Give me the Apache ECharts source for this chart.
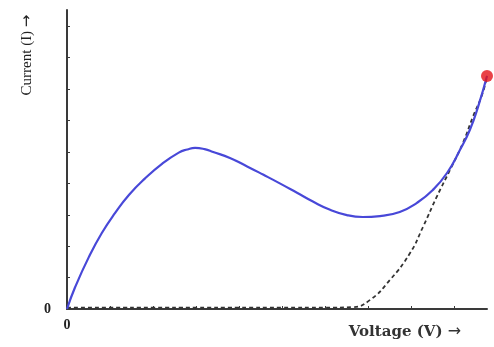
<!DOCTYPE html>
<html><head><meta charset="utf-8">
<script src="https://cdn.jsdelivr.net/npm/echarts@6/dist/echarts.min.js"></script>
<style>html,body{margin:0;padding:0;background:#fff}#c{width:494px;height:347px}</style>
</head><body><div id="c"></div>
<script>
// Tunnel-diode I–V curve (arbitrary units)
const voltage = [0, 0.19, 0.51, 0.81, 1.12, 1.44, 1.81, 2.21, 2.60, 2.80, 2.98, 3.20, 3.40, 3.79, 4.19, 4.56, 4.95, 5.35, 5.72, 6.12, 6.51, 6.88, 7.28, 7.74, 8.14, 8.51, 8.84, 9.14, 9.37, 9.56, 9.77];
const current = [0, 0.70, 1.66, 2.42, 3.06, 3.63, 4.15, 4.62, 4.98, 5.08, 5.13, 5.09, 5.00, 4.81, 4.54, 4.28, 4.00, 3.70, 3.42, 3.16, 2.99, 2.93, 2.96, 3.09, 3.38, 3.79, 4.33, 5.06, 5.70, 6.43, 7.42];
const diodeV = [0, 1.0, 2.0, 3.0, 4.0, 5.0, 6.0, 6.65, 7.05, 7.51, 7.98, 8.28, 8.60, 8.91, 9.21, 9.44, 9.67, 9.77];
const diodeI = [0.04, 0.04, 0.04, 0.04, 0.04, 0.04, 0.04, 0.06, 0.29, 0.92, 1.78, 2.61, 3.57, 4.43, 5.29, 6.11, 6.88, 7.42];
const endPoint = [9.77, 7.42];
const xTickLabels = ['0'];
const yTickLabels = ['0'];

const chart = echarts.init(document.getElementById('c'));
const serif = '"Liberation Serif", "DejaVu Serif", serif';
chart.setOption({
  animation: false,
  grid: {left: 67, right: 7, top: 10, bottom: 38},
  xAxis: {
    type: 'value', min: 0, max: 9.77, interval: 1,
    axisLine: {lineStyle: {color: '#3a3a3a', width: 2}},
    axisTick: {inside: true, length: 3, lineStyle: {color: '#3a3a3a'}},
    splitLine: {show: false},
    axisLabel: {
      formatter: v => (v === 0 ? xTickLabels[0] : ''),
      color: '#222', fontFamily: serif, fontSize: 14, fontWeight: 'bold', margin: 9, showMaxLabel: false
    }
  },
  yAxis: {
    type: 'value', min: 0, max: 9.52, interval: 1,
    axisLine: {show: true, lineStyle: {color: '#3a3a3a', width: 2}},
    axisTick: {show: true, inside: true, length: 3, lineStyle: {color: '#3a3a3a'}},
    splitLine: {show: false},
    axisLabel: {
      formatter: v => (v === 0 ? yTickLabels[0] : ''),
      color: '#222', fontFamily: serif, fontSize: 14, fontWeight: 'bold', margin: 16, showMaxLabel: false
    }
  },
  graphic: [
    {type: 'text', x: 27, y: 55, rotation: Math.PI / 2, style: {text: 'Current (I) {a|→}', font: '15px ' + serif, fill: '#222', textAlign: 'center', textVerticalAlign: 'middle',
      rich: {a: {font: '15px "DejaVu Sans"', fill: '#222'}}}},
    {type: 'text', x: 405, y: 332, style: {text: 'Voltage (V) {a|→}', font: 'bold 15px "DejaVu Serif", serif', fill: '#333', textAlign: 'center', textVerticalAlign: 'middle',
      rich: {a: {font: '16px "DejaVu Sans"', fill: '#333'}}}}
  ],
  series: [
    {type: 'line', smooth: 0.5, symbol: 'none', data: diodeV.map((v, i) => [v, diodeI[i]]),
     lineStyle: {color: '#333', width: 1.8, type: [4, 3]}, z: 2},
    {type: 'line', smooth: 0.5, symbol: 'none', data: voltage.map((v, i) => [v, current[i]]),
     lineStyle: {color: '#4848d8', width: 2.2}, z: 3},
    {type: 'scatter', data: [endPoint], symbolSize: 12, itemStyle: {color: '#e4141a'}, z: 4}
  ]
});
</script></body></html>
